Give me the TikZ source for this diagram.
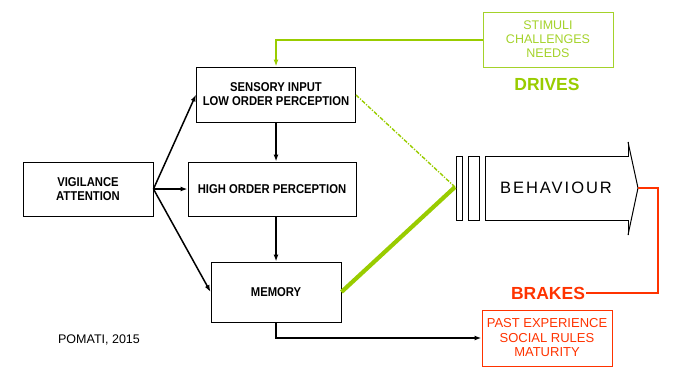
\documentclass[tikz,border=0pt]{standalone}
\usepackage{fontspec}
\setmainfont{Liberation Sans}
\newfontfamily\condf[FakeStretch=0.88]{Liberation Sans}
\newfontfamily\spacedf[LetterSpace=12]{Liberation Sans}
\usetikzlibrary{arrows.meta}
\definecolor{lime}{HTML}{99CC00}
\definecolor{limetxt}{HTML}{A4D22A}
\definecolor{brk}{HTML}{FF3300}
\tikzset{
  box/.style={draw, line width=0.9pt, inner sep=0pt, align=center,
    font=\condf\bfseries\fontsize{12.8}{14}\selectfont},
  gbox/.style={draw=limetxt, text=limetxt, line width=1pt, inner sep=0pt, align=center,
    font=\fontsize{12.5}{14}\selectfont},
  rbox/.style={draw=brk, text=brk, line width=1pt, inner sep=0pt, align=center,
    font=\fontsize{13}{14.5}\selectfont},
  biglabel/.style={font=\bfseries\fontsize{17.5}{20}\selectfont, inner sep=1pt},
  arr/.style={line width=1.5pt, -{Latex[length=7pt,width=5pt]}},
  headline/.style={line width=1pt}
}
\begin{document}
\begin{tikzpicture}[x=1pt,y=-1pt]
\useasboundingbox (0,0) rectangle (678,381);
% boxes
\node[box, minimum width=159pt, minimum height=55pt] (sens) at (276,94.5) {SENSORY INPUT\\LOW ORDER PERCEPTION};
\node[box, minimum width=168pt, minimum height=54pt] (high) at (272,189) {HIGH ORDER PERCEPTION};
\node[box, minimum width=130pt, minimum height=54pt] (vig) at (88,189) {VIGILANCE\\ATTENTION};
\node[box, minimum width=130pt, minimum height=60pt] (mem) at (276,292) {MEMORY};
\node[gbox, minimum width=130pt, minimum height=55pt] (stim) at (548,39.5) {STIMULI\\CHALLENGES\\NEEDS};
\node[biglabel, text=lime] (drives) at (547,84) {DRIVES};
\node[rbox, minimum width=130pt, minimum height=56pt] (past) at (547,338) {PAST EXPERIENCE\\SOCIAL RULES\\MATURITY};
\node[biglabel, text=brk] (brakes) at (548,293) {BRAKES};
\node[font=\fontsize{12.5}{14}\selectfont] (pomati) at (99,340) {POMATI, 2015};
% behaviour arrow
\draw[line width=0.9pt] (456,156) rectangle (462.5,220);
\draw[line width=0.9pt] (468,156) rectangle (479,220);
\draw[line width=0.9pt] (628,142) -- (628,156) -- (485,156) -- (485,220) -- (628,220) -- (628,235);
\draw[headline] (628,142) -- (638,188) -- (628,235);
\coordinate (gate) at (455,187);
\coordinate (tip) at (638,188);
\node[font=\spacedf\fontsize{16.5}{18}\selectfont] (beh) at (556,188) {BEHAVIOUR};
% black arrows
\draw[arr] (vig.east) -- (sens.west);
\draw[arr] (vig.east) -- (high.west);
\draw[arr] (vig.east) -- (mem.west);
\draw[arr] (sens.south) -- (sens.south |- high.north);
\draw[arr] (high.south -| mem.north) -- (mem.north);
\draw[arr] (mem.south) |- (past.west);
% green
\draw[lime, line width=2pt, -{Latex[length=7pt,width=5pt]}] (stim.west) -| (sens.north);
\draw[lime, line width=1.4pt, dash pattern=on 4pt off 1.5pt on 1.2pt off 1.5pt] (356,95) -- (gate);
\draw[lime, line width=4.2pt] (mem.east) -- (gate);
% red
\draw[brk, line width=2.6pt] (brakes.east) -- (658,293) -- (658,188) -- (tip);
\end{tikzpicture}
\end{document}
